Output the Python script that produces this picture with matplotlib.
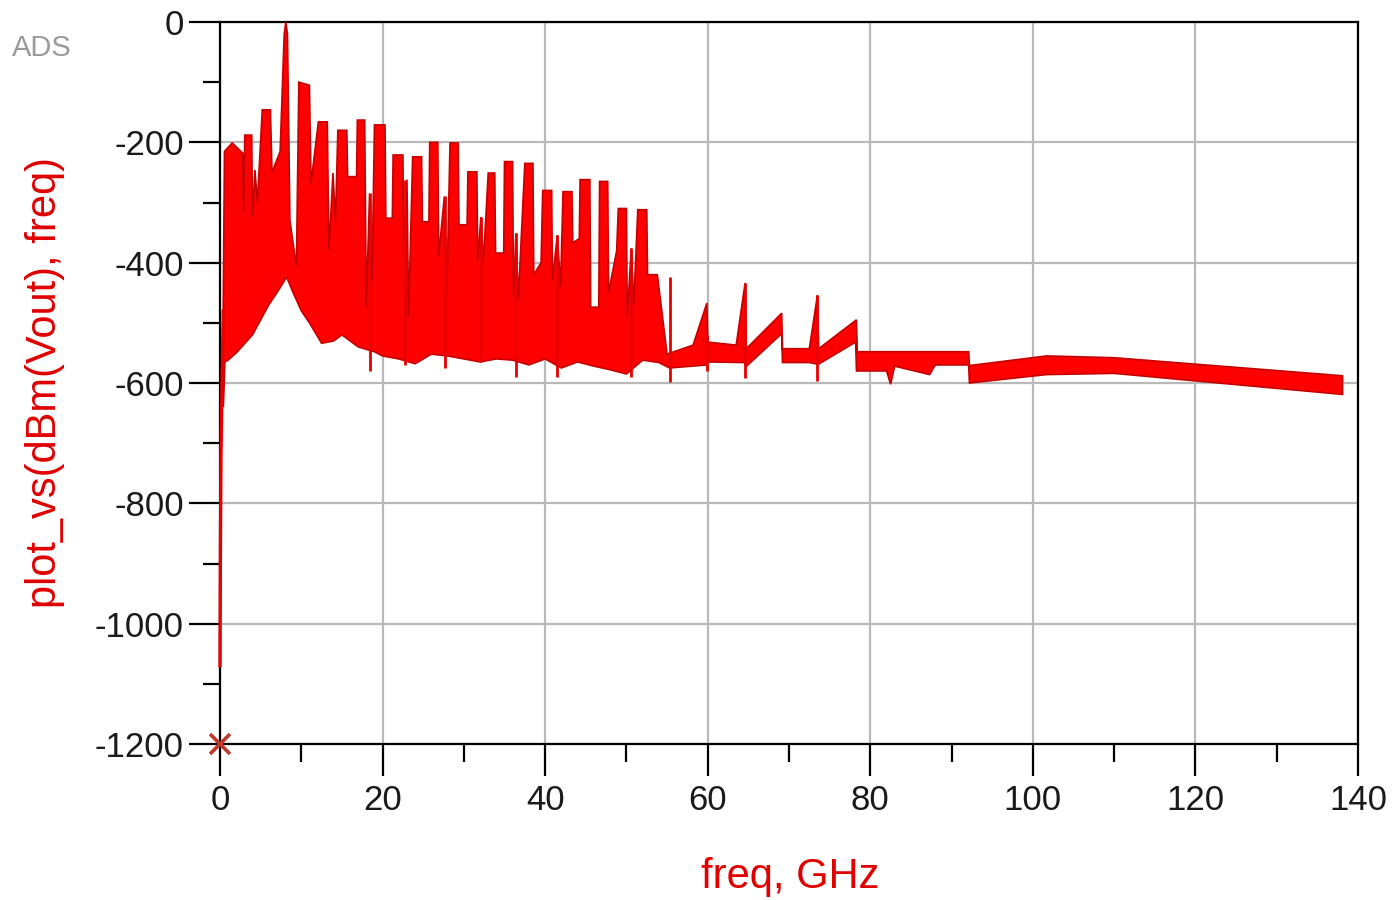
import matplotlib
matplotlib.use('Agg')
import matplotlib.pyplot as plt
from matplotlib.ticker import MultipleLocator

plt.rcParams['font.family'] = ['Liberation Sans', 'DejaVu Sans']

# ---- data ----
# upper outline of the red trace bundle (GHz, dBm)
top_freq = [0.40, 0.55, 1.5, 2.8, 2.9, 3.05, 3.9, 4.0, 4.3, 4.6, 5.2, 6.2, 6.4, 7.4, 7.9, 8.1, 8.3, 8.6,
            9.4, 9.7, 11.0, 11.2, 12.1, 13.2, 13.4, 13.9, 14.2, 14.5, 15.6, 15.7, 16.8, 16.9, 17.8,
            18.0, 18.4, 18.7, 19.0, 20.3, 20.4, 21.2, 21.3, 22.5, 22.6, 23.0, 23.2, 23.7, 24.8, 24.9,
            25.7, 25.8, 26.8, 26.9, 27.6, 27.9, 28.3, 29.3, 29.4, 30.4, 30.5, 31.6, 31.7, 32.1, 32.4,
            33.0, 33.8, 33.9, 34.9, 35.0, 36.0, 36.1, 36.4, 36.7, 37.5, 38.5, 38.6, 39.5, 39.7, 40.8,
            40.9, 41.5, 41.9, 42.2, 43.3, 43.4, 44.2, 44.3, 45.5, 45.6, 46.6, 46.7, 47.7, 47.8, 48.8,
            49.0, 50.0, 50.1, 50.6, 50.9, 51.4, 52.5, 52.6, 53.8, 55.0,
            58.2, 59.9, 60.0, 63.5, 64.6, 64.75, 69.1, 69.2, 72.5, 73.5, 73.65, 78.3, 78.4,
            92.1, 92.2, 101.7, 110.0, 138.1]
top_dbm = [-470, -215, -201, -218, -318, -188, -188, -324, -246, -300, -146, -146, -250, -215, -20, 0, -20, -330,
           -407, -100, -105, -268, -166, -166, -379, -251, -330, -180, -180, -257, -257, -163, -163,
           -474, -285, -430, -171, -171, -326, -326, -221, -221, -380, -262, -490, -224, -224, -332,
           -332, -200, -200, -390, -290, -450, -201, -201, -337, -337, -249, -249, -396, -324, -400,
           -251, -251, -384, -384, -232, -232, -457, -351, -460, -235, -235, -420, -400, -280, -280,
           -430, -354, -440, -282, -282, -367, -360, -262, -262, -474, -474, -265, -265, -450, -380,
           -310, -310, -490, -376, -470, -312, -312, -420, -420, -552,
           -537, -467, -532, -537, -434, -543, -484, -543, -543, -454, -543, -495, -548,
           -548, -571, -555, -558, -588]

# lower outline of the red trace bundle (GHz, dBm)
bot_freq = [0.40, 0.6, 1.0, 2.0, 3.0, 4.0, 5.0, 6.0, 7.0, 8.2, 9.0, 10.0, 11.0, 12.5, 14.0, 15.0, 17.0,
            19.0, 20.0, 22.0, 24.0, 26.0, 28.0, 30.0, 32.0, 34.0, 36.0, 38.0, 40.0, 42.0, 44.0, 46.0,
            48.0, 50.0, 52.0, 54.0, 55.3, 59.9, 60.0, 64.5, 64.7, 69.1, 69.2, 72.5, 73.6, 78.2, 78.3,
            82.0, 82.5, 83.0, 87.3, 88.0, 92.1, 92.2, 101.7, 110.0, 138.1]
bot_dbm = [-640, -565, -562, -550, -535, -520, -495, -470, -450, -424, -450, -480, -500, -534, -530, -520, -540,
           -548, -555, -560, -568, -552, -555, -560, -565, -560, -562, -570, -560, -575, -565, -572,
           -578, -585, -562, -566, -575, -570, -565, -566, -573, -518, -566, -566, -569, -532, -580,
           -580, -602, -572, -586, -570, -570, -600, -586, -584, -619]

# thin spikes (GHz, upper dBm, lower dBm)
spike_freq = [18.4, 22.7, 27.7, 32.1, 36.4, 41.5, 50.6, 55.3, 59.9, 64.6, 73.5]
spike_hi = [-285, -262, -290, -324, -351, -354, -376, -424, -520, -434, -454]
spike_lo = [-580, -570, -575, -565, -590, -590, -590, -598, -580, -592, -597]

# initial steep rise at the start of the sweep
rise_freq = [0.0, 0.05, 0.12, 0.25, 0.40]
rise_dbm = [-1070, -880, -720, -600, -480]

marker_freq = [0.0]
marker_dbm = [-1200]

x_ticks = [0, 20, 40, 60, 80, 100, 120, 140]
y_ticks = [-1200, -1000, -800, -600, -400, -200, 0]

# ---- figure ----
W, H = 1395, 900
fig = plt.figure(figsize=(W / 100, H / 100), dpi=100)
ax = fig.add_axes([220 / W, 1 - 744 / H, (1358 - 220) / W, (744 - 22) / H])
ax.set_xlim(0, 140)
ax.set_ylim(-1200, 0)

ax.grid(True, which='major', color='#b9b9b9', lw=1.6)
ax.set_axisbelow(True)

poly_x = top_freq + bot_freq[::-1]
poly_y = top_dbm + bot_dbm[::-1]
ax.fill(poly_x, poly_y, facecolor='#ff0000', edgecolor='#c40000', lw=1.2, zorder=3)
ax.vlines(spike_freq, spike_lo, spike_hi, color='#e80000', lw=2.0, zorder=3)
ax.plot(rise_freq, rise_dbm, color='#e80000', lw=2.4, zorder=4, clip_on=False)
ax.plot(marker_freq, marker_dbm, linestyle='none', marker='x', ms=14, mew=2.6,
        color='#c0392b', clip_on=False, zorder=6)

for s in ax.spines.values():
    s.set_linewidth(1.6)
    s.set_color('black')

ax.set_xticks(x_ticks)
ax.set_yticks(y_ticks)
ax.set_xticklabels([str(v) for v in x_ticks])
ax.set_yticklabels([str(v) for v in y_ticks])
ax.xaxis.set_minor_locator(MultipleLocator(10))
ax.yaxis.set_minor_locator(MultipleLocator(100))
ax.tick_params(axis='x', which='major', direction='out', length=23, width=1.6,
               labelsize=25, pad=6, colors='black', labelcolor='#1a1a1a')
ax.tick_params(axis='y', which='major', direction='out', length=22, width=1.6,
               labelsize=25, pad=4, colors='black', labelcolor='#1a1a1a')
ax.tick_params(axis='x', which='minor', direction='out', length=13, width=1.6, colors='black')
ax.tick_params(axis='y', which='minor', direction='out', length=12, width=1.6, colors='black')

fig.text(45 / W, 1 - 383 / H, 'plot_vs(dBm(Vout), freq)', rotation=90, ha='center', va='center',
         fontsize=30, color='#e00000')
fig.text(790 / W, 1 - 877 / H, 'freq, GHz', ha='center', va='center', fontsize=30, color='#e00000')
fig.text(12 / W, 1 - 48 / H, 'ADS', ha='left', va='center', fontsize=21, color='#9a9a9a')

fig.savefig('out.png', dpi=100)
